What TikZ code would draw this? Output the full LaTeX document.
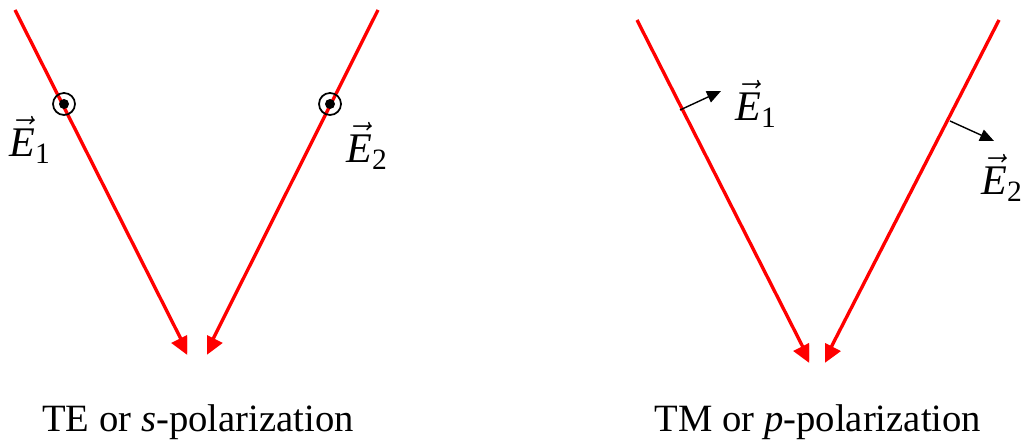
\documentclass[tikz,border=0pt]{standalone}
\usepackage{xcolor}
\usepackage{amsmath}
\usepackage{fontspec}
\setmainfont{Liberation Serif}
\usepackage{tikz}
\usetikzlibrary{arrows.meta}

\newcommand{\Evec}[1]{$\vec{\textit{E}}_{\text{#1}}$}

\begin{document}
\begin{tikzpicture}[x=0.02cm, y=-0.02cm,
    every node/.style={font=\fontsize{22}{26}\selectfont},
    ray/.style={red, line width=1.9pt, -{Triangle[length=0.42cm, width=0.4cm]}},
    field/.style={black, line width=0.8pt, -{Triangle[length=0.28cm, width=0.24cm]}}]
    \useasboundingbox (0,0) rectangle (1026,448);

    % TE rays
    \coordinate (s1a) at (15,10);
    \coordinate (s1b) at (190,357);
    \coordinate (s2a) at (378,10);
    \coordinate (s2b) at (204,357);
    \begin{scope}
        \clip (0,0) rectangle (187,448);
        \draw[ray] (s1a) -- (s1b);
    \end{scope}
    \begin{scope}
        \clip (207,0) rectangle (420,448);
        \draw[ray] (s2a) -- (s2b);
    \end{scope}

    % Field out of the page
    \coordinate (c1) at (64,104);
    \coordinate (c2) at (330,104);
    \draw[line width=1pt] (c1) circle[radius=11];
    \fill (c1) circle[radius=5];
    \draw[line width=1pt] (c2) circle[radius=11];
    \fill (c2) circle[radius=5];
    \node[font=\fontsize{24}{28}\selectfont] (e1s) at (30,140) {\Evec{1}};
    \node[font=\fontsize{24}{28}\selectfont] (e2s) at (367,146) {\Evec{2}};

    % TM rays
    \coordinate (p1a) at (637,20);
    \coordinate (p1b) at (812,365);
    \coordinate (p2a) at (999,20);
    \coordinate (p2b) at (822,365);
    \begin{scope}
        \clip (600,0) rectangle (809,448);
        \draw[ray] (p1a) -- (p1b);
    \end{scope}
    \begin{scope}
        \clip (825,0) rectangle (1026,448);
        \draw[ray] (p2a) -- (p2b);
    \end{scope}

    % Field in the plane
    \coordinate (f1a) at (680,110);
    \coordinate (f1b) at (721,91);
    \coordinate (f2a) at (950,121);
    \coordinate (f2b) at (994,141);
    \draw[field] (f1a) -- (f1b);
    \draw[field] (f2a) -- (f2b);
    \node[font=\fontsize{24}{28}\selectfont] (e1p) at (756,104) {\Evec{1}};
    \node[font=\fontsize{24}{28}\selectfont] (e2p) at (1002,178) {\Evec{2}};

    % Captions
    \node (te) at (198,422) {TE or \textit{s}-polarization};
    \node (tm) at (818,422) {TM or \textit{p}-polarization};
\end{tikzpicture}
\end{document}
